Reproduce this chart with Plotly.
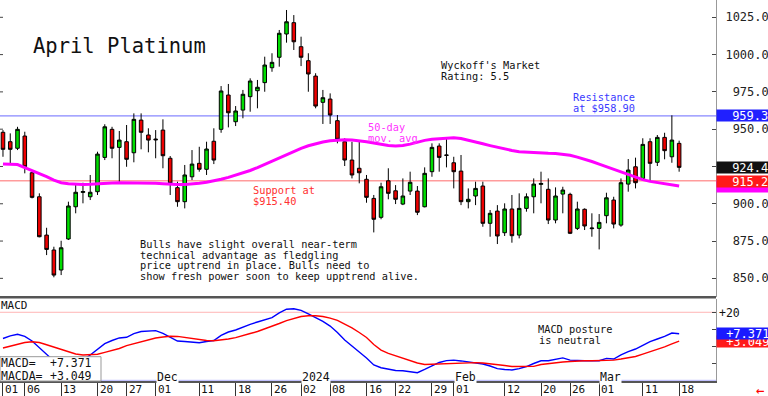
import plotly.graph_objects as go
import pandas as pd

# ---------------- data ----------------
holidays = ['2023-11-23', '2023-12-25', '2024-01-01', '2024-01-15', '2024-02-19']
dates = pd.bdate_range('2023-11-01', '2024-03-18', freq='C', holidays=holidays)
day_idx = list(range(len(dates)))

opens = [947.9, 941.6, 937.2, 945.4, 920.8, 904.7, 879.0, 869.0, 855.6, 876.4,
         898.0, 907.6, 904.7, 908.1, 931.1, 949.9, 937.8, 941.6, 934.2, 956.1,
         946.1, 943.4, 949.4, 930.5, 910.8, 901.4, 918.1, 927.1, 923.1, 941.9,
         949.9, 972.9, 955.0, 962.8, 971.8, 975.8, 981.2, 991.2, 998.2, 1013.8,
         1021.4, 1005.3, 995.9, 985.6, 968.0, 970.2, 955.7, 941.6, 929.3, 923.8,
         916.4, 903.6, 890.9, 915.4, 908.7, 899.8, 908.5, 908.5, 898.0, 921.5,
         938.7, 932.7, 927.5, 921.9, 901.4, 905.2, 911.9, 886.9, 895.1, 880.6,
         896.5, 879.0, 896.9, 904.7, 913.0, 909.7, 889.1, 906.5, 906.3, 883.5,
         896.3, 883.3, 883.5, 892.0, 902.5, 885.7, 913.2, 924.8, 917.0, 941.6,
         927.8, 944.5, 931.5, 940.5]
highs = [949.4, 947.2, 951.6, 948.3, 921.5, 907.0, 883.9, 871.2, 875.2, 901.4,
         913.7, 914.1, 919.3, 934.9, 953.3, 951.6, 948.8, 952.8, 960.6, 960.6,
         950.6, 949.4, 956.6, 932.0, 914.8, 926.0, 936.0, 938.2, 941.6, 950.6,
         978.9, 980.3, 965.5, 976.3, 984.1, 983.0, 998.6, 1000.9, 1016.5, 1029.9,
         1026.5, 1012.0, 1000.9, 987.5, 976.3, 974.0, 959.5, 943.9, 941.6, 942.7,
         919.3, 905.9, 914.1, 923.8, 912.5, 917.0, 921.5, 911.9, 924.4, 940.5,
         940.5, 943.9, 931.5, 932.7, 910.3, 914.8, 914.8, 895.8, 899.1, 900.3,
         905.9, 907.0, 907.0, 917.0, 921.5, 917.0, 911.0, 911.4, 907.4, 901.4,
         896.9, 893.6, 893.1, 907.4, 904.7, 917.0, 930.0, 930.9, 943.9, 943.9,
         946.1, 947.6, 959.3, 942.3]
lows = [931.5, 926.0, 936.0, 920.4, 903.6, 877.5, 865.6, 850.7, 852.2, 875.7,
        893.6, 900.3, 902.5, 905.9, 929.3, 930.5, 914.1, 924.8, 927.8, 936.5,
        934.5, 930.5, 923.8, 905.9, 898.0, 896.9, 915.9, 921.5, 919.3, 926.6,
        947.6, 951.2, 952.1, 957.3, 961.7, 964.0, 975.1, 988.5, 991.9, 1008.0,
        1003.1, 992.3, 975.1, 964.0, 953.5, 953.5, 940.5, 925.3, 917.0, 913.7,
        900.7, 880.8, 889.6, 903.0, 899.8, 899.1, 905.9, 892.4, 897.6, 918.1,
        921.5, 924.4, 910.3, 899.1, 896.9, 899.1, 884.6, 877.9, 873.0, 878.4,
        873.9, 876.8, 894.7, 893.6, 900.3, 886.4, 886.9, 893.6, 879.7, 882.4,
        882.4, 877.9, 869.4, 886.9, 883.5, 884.6, 908.1, 910.3, 916.4, 914.8,
        925.3, 929.8, 927.5, 921.5]
closes = [936.5, 936.5, 949.9, 924.8, 904.3, 877.9, 869.4, 852.2, 870.5, 898.5,
          907.7, 908.2, 907.7, 933.3, 951.6, 937.2, 942.7, 929.8, 956.6, 947.9,
          942.7, 942.9, 932.2, 913.7, 901.4, 919.3, 926.6, 923.1, 936.7, 929.3,
          975.6, 961.0, 962.2, 973.4, 982.3, 978.1, 993.0, 994.8, 1014.3, 1022.0,
          1008.6, 998.2, 987.0, 965.5, 971.1, 959.5, 943.2, 929.3, 919.3, 920.8,
          904.3, 889.6, 911.4, 907.0, 903.0, 905.2, 914.4, 894.3, 920.4, 937.8,
          931.1, 932.5, 921.5, 901.4, 903.0, 910.3, 886.9, 893.6, 878.4, 896.5,
          878.6, 896.9, 904.7, 913.2, 913.6, 889.1, 905.2, 909.2, 880.2, 896.5,
          885.1, 883.7, 887.5, 904.0, 886.4, 914.1, 922.6, 914.1, 939.8, 927.1,
          944.5, 935.6, 942.7, 924.4]
ma50 = [926.6, 926.6, 926.3, 924.3, 922.3, 920.5, 918.2, 915.9, 914.1, 913.4,
        913.0, 913.0, 913.1, 913.2, 913.6, 913.9, 914.1, 914.1, 914.1, 914.0,
        913.9, 913.7, 913.4, 913.0, 913.0, 913.0, 913.2, 913.7, 914.4, 915.2,
        916.4, 917.7, 919.1, 920.6, 922.3, 924.3, 926.5, 928.8, 931.1, 933.3,
        935.4, 937.2, 938.9, 940.2, 941.4, 942.2, 942.7, 942.9, 942.7, 942.3,
        941.6, 940.7, 939.8, 939.0, 938.7, 939.0, 940.0, 941.4, 942.5, 943.2,
        943.7, 944.2, 944.3, 943.7, 942.7, 941.4, 940.2, 939.0, 937.8, 936.7,
        935.7, 934.9, 934.5, 934.1, 934.0, 933.8, 933.7, 933.3, 932.5, 931.3,
        930.0, 928.3, 926.6, 924.8, 923.1, 921.3, 919.4, 917.7, 916.2, 915.0,
        914.1, 913.2, 912.4, 911.9]
macd = [4.6, 6.1, 7.1, 5.8, 3.1, -1.0, -5.1, -8.6, -11.0, -11.6,
        -10.4, -8.1, -5.1, -1.6, 1.6, 3.4, 4.9, 5.3, 7.5, 8.7,
        9.0, 9.2, 7.6, 5.2, 3.1, 2.8, 2.5, 2.1, 2.8, 3.4,
        6.4, 8.4, 9.6, 11.4, 12.9, 14.3, 15.5, 16.9, 19.6, 21.8,
        22.1, 21.1, 19.0, 16.9, 14.6, 11.9, 8.1, 3.7, -0.1, -3.4,
        -6.9, -11.0, -12.6, -13.6, -14.2, -14.4, -14.8, -15.5, -13.6, -11.6,
        -9.5, -8.4, -8.1, -8.6, -9.2, -9.5, -10.4, -11.6, -13.1, -13.6,
        -13.9, -13.1, -11.9, -10.1, -8.5, -8.5, -7.8, -6.8, -8.1, -8.4,
        -8.5, -8.5, -8.5, -7.1, -7.5, -5.1, -3.1, -1.6, 0.8, 2.8,
        4.3, 5.8, 7.8, 7.371]
macd_avg = [-1.0, 0.2, 1.4, 2.2, 2.7, 2.2, 0.9, -0.4, -1.9, -3.4,
            -4.5, -5.1, -5.1, -4.7, -3.6, -2.5, -1.3, 0.4, 1.6, 2.8,
            4.0, 4.9, 5.5, 5.9, 5.8, 5.2, 4.6, 3.9, 3.4, 3.3,
            3.7, 4.3, 5.1, 6.1, 7.5, 8.7, 10.2, 11.6, 13.4, 15.1,
            16.4, 17.5, 18.0, 18.0, 17.5, 16.6, 15.2, 13.1, 10.8, 8.1,
            5.2, 1.1, -2.2, -4.2, -5.7, -7.2, -8.6, -9.8, -10.7, -10.5,
            -10.4, -10.1, -9.8, -9.6, -9.6, -9.6, -9.8, -10.2, -10.7, -11.3,
            -11.9, -12.0, -12.0, -11.8, -10.7, -10.1, -9.6, -9.2, -8.9, -8.6,
            -8.5, -8.5, -8.4, -8.2, -8.1, -7.5, -6.8, -6.0, -4.6, -3.3,
            -1.9, -0.3, 1.4, 3.049]

tick_dates = ['2023-11-01', '2023-11-06', '2023-11-13', '2023-11-20', '2023-11-27',
              '2023-12-01', '2023-12-11', '2023-12-18', '2023-12-26', '2024-01-02',
              '2024-01-08', '2024-01-16', '2024-01-22', '2024-01-29', '2024-02-01',
              '2024-02-12', '2024-02-20', '2024-02-26', '2024-03-01', '2024-03-11',
              '2024-03-18']
tick_labels = [d[-2:] for d in tick_dates]
period_dates = ['2023-12-01', '2024-01-02', '2024-02-01', '2024-03-01']
period_labels = ['Dec', '2024', 'Feb', 'Mar']
price_ticks = [850, 875, 900, 925, 950, 975, 1000, 1025]
price_tick_labels_shown = [850, 875, 900, 950, 975, 1000, 1025]
macd_ticks = [-20, -10, 0, 10, 20]
resistance = 958.9
support = 915.4
last_high = 959.3
last_close = 924.4
support_mark = 915.2

# ---------------- helpers ----------------
date_str = [d.strftime('%Y-%m-%d') for d in dates]
tick_idx = [date_str.index(d) for d in tick_dates]
period_idx = [date_str.index(d) for d in period_dates]

PW, PH = 716.0, 381.0
FONT = "DejaVu Sans Mono"


def px(x):
    return x / PW


def py(y):
    return (PH - y) / PH


fig = go.Figure()

fig.add_trace(go.Candlestick(
    x=day_idx, open=opens, high=highs, low=lows, close=closes,
    increasing=dict(fillcolor='#00dd00', line=dict(color='#000000', width=1)),
    decreasing=dict(fillcolor='#ee0000', line=dict(color='#000000', width=1)),
    whiskerwidth=0, xaxis='x', yaxis='y', hoverinfo='skip'))
fig.add_trace(go.Scatter(x=day_idx, y=ma50, mode='lines',
                         line=dict(color='#ff00ff', width=3),
                         xaxis='x', yaxis='y', hoverinfo='skip'))
fig.add_trace(go.Scatter(x=day_idx, y=macd, mode='lines',
                         line=dict(color='#0000ff', width=1.4),
                         xaxis='x2', yaxis='y2', hoverinfo='skip'))
fig.add_trace(go.Scatter(x=day_idx, y=macd_avg, mode='lines',
                         line=dict(color='#ff0000', width=1.4),
                         xaxis='x2', yaxis='y2', hoverinfo='skip'))

shapes = []
shapes.append(dict(type='line', xref='paper', x0=0, x1=1, yref='y', y0=resistance, y1=resistance,
                   line=dict(color='#6a6aff', width=1), layer='below'))
shapes.append(dict(type='line', xref='paper', x0=0, x1=1, yref='y', y0=support, y1=support,
                   line=dict(color='#ff9c9c', width=1.5), layer='below'))
shapes.append(dict(type='line', xref='paper', x0=0, x1=1, yref='y2', y0=20, y1=20,
                   line=dict(color='#ffb4b4', width=1), layer='below'))
shapes.append(dict(type='line', xref='paper', x0=0, x1=1, yref='y2', y0=-20, y1=-20,
                   line=dict(color='#b4b4ff', width=1), layer='below'))
shapes.append(dict(type='line', xref='paper', x0=0, x1=1, yref='paper', y0=py(297.3), y1=py(297.3),
                   line=dict(color='#555555', width=2.5)))
for v in price_ticks:
    shapes.append(dict(type='line', xref='paper', x0=0, x1=px(3), yref='y', y0=v, y1=v,
                       line=dict(color='#444444', width=1)))
shapes.append(dict(type='rect', xref='paper', x0=px(0), x1=px(101), yref='paper',
                   y0=py(381), y1=py(356.7), fillcolor='white',
                   line=dict(color='#999999', width=1)))

ann = []


def text(t, x, y, size=10.3, color='#111111', **kw):
    d = dict(text=t, xref='paper', yref='paper', x=px(x), y=py(y), xanchor='left',
             yanchor='middle', showarrow=False, font=dict(family=FONT, size=size, color=color))
    d.update(kw)
    ann.append(d)


text('April Platinum', 31, 46, size=20.5, color='#111111')
text("Wyckoff's Market", 439, 65)
text('Rating: 5.5', 439, 75.5)
text('Resistance', 571, 97, color='#3a3aff')
text('at $958.90', 571, 107.5, color='#3a3aff')
text('50-day', 365.5, 127.5, color='#ff33ff')
text('mov. avg', 365.5, 138, color='#ff33ff')
text('Support at', 251, 190, color='#ff3030')
text('$915.40', 251, 200.5, color='#ff3030')
for i, line in enumerate(['Bulls have slight overall near-term',
                          'technical advantage as fledgling',
                          'price uptrend in place. Bulls need to',
                          'show fresh power soon to keep upptrend alive.']):
    text(line, 137.5, 244 + 10.5 * i)
text('MACD posture', 535.5, 329)
text('is neutral', 536.5, 339.5)
text('MACD', -1, 305.5, size=11)
text('MACD=', -1, 363, size=11.5)
text('+7.371', 48, 363, size=11.5)
text('MACDA=', -1, 376, size=11.5)
text('+3.049', 48, 376, size=11.5)
text('+20', 716.5, 312.5, size=11.5)
text('\u2190', 754, 390, size=14, color='#ff0000')

for v in price_tick_labels_shown:
    ann.append(dict(text=f'{v:.2f}', xref='paper', yref='y', x=1.0, y=v, xanchor='left',
                    yanchor='middle', width=58, align='right', showarrow=False,
                    font=dict(family=FONT, size=12, color='#222222')))


def box(v, yref, t, bg, w=58, fg='white'):
    ann.append(dict(text=t, xref='paper', yref=yref, x=1.0, y=v, xanchor='left',
                    yanchor='middle', width=w, height=10, align='right', showarrow=False,
                    bgcolor=bg, borderpad=0.5,
                    font=dict(family=FONT, size=12, color=fg)))


box(last_high, 'y', f'{last_high:.2f}', '#2020ff')
box(last_close, 'y', f'{last_close:.2f}', '#111111')
box(ma50[-1], 'y', ' ', '#ff00ff')
box(support_mark, 'y', f'{support_mark:.2f}', '#ff1a1a')
box(macd_avg[-1], 'y2', f'+{macd_avg[-1]:.3f}', '#ff1a1a', w=52)
box(macd[-1], 'y2', f'+{macd[-1]:.3f}', '#1a1aff', w=52)

for i, lab in zip(tick_idx, tick_labels):
    ann.append(dict(text=lab, xref='x2', yref='paper', x=i, y=py(389.5), xanchor='left',
                    yanchor='middle', xshift=0, showarrow=False,
                    font=dict(family=FONT, size=11, color='#111111')))
for i, lab in zip(period_idx, period_labels):
    ann.append(dict(text=lab, xref='x2', yref='paper', x=i, y=py(376.5), xanchor='left',
                    yanchor='middle', showarrow=False, bgcolor='white', borderpad=0,
                    font=dict(family=FONT, size=11.5, color='#111111')))

x_range = [-0.41, 98.07]
fig.update_layout(
    width=768, height=396, autosize=False,
    margin=dict(l=0, r=52, t=0, b=15, pad=0),
    paper_bgcolor='white', plot_bgcolor='white', showlegend=False,
    xaxis=dict(domain=[0, 1], range=x_range, anchor='y', showticklabels=False, showgrid=False,
               zeroline=False, showline=False, ticks='', rangeslider=dict(visible=False),
               fixedrange=True),
    yaxis=dict(domain=[py(297.0), 1], range=[837.5, 1036.6], side='right', anchor='x',
               showticklabels=False, showgrid=False, zeroline=False, showline=True,
               linecolor='#999999', linewidth=1, ticks='inside', ticklen=4,
               tickcolor='#444444', tickvals=price_ticks),
    xaxis2=dict(domain=[0, 1], range=x_range, anchor='y2', matches='x', showticklabels=False,
                showgrid=False, zeroline=False, showline=True, linecolor='#555555', linewidth=2,
                ticks='outside', ticklen=14, tickwidth=1, tickcolor='#333333',
                tickvals=tick_idx),
    yaxis2=dict(domain=[0, py(298.5)], range=[-20.4, 28.1], side='right', anchor='x2',
                showticklabels=False, showgrid=False, zeroline=False, showline=True,
                linecolor='#999999', linewidth=1, ticks='inside', ticklen=4,
                tickcolor='#444444', tickvals=macd_ticks),
    shapes=shapes, annotations=ann,
)

fig.write_html('out.html', config={'displayModeBar': False},
               post_script="document.body.style.margin='0';document.body.style.overflow='hidden';")
